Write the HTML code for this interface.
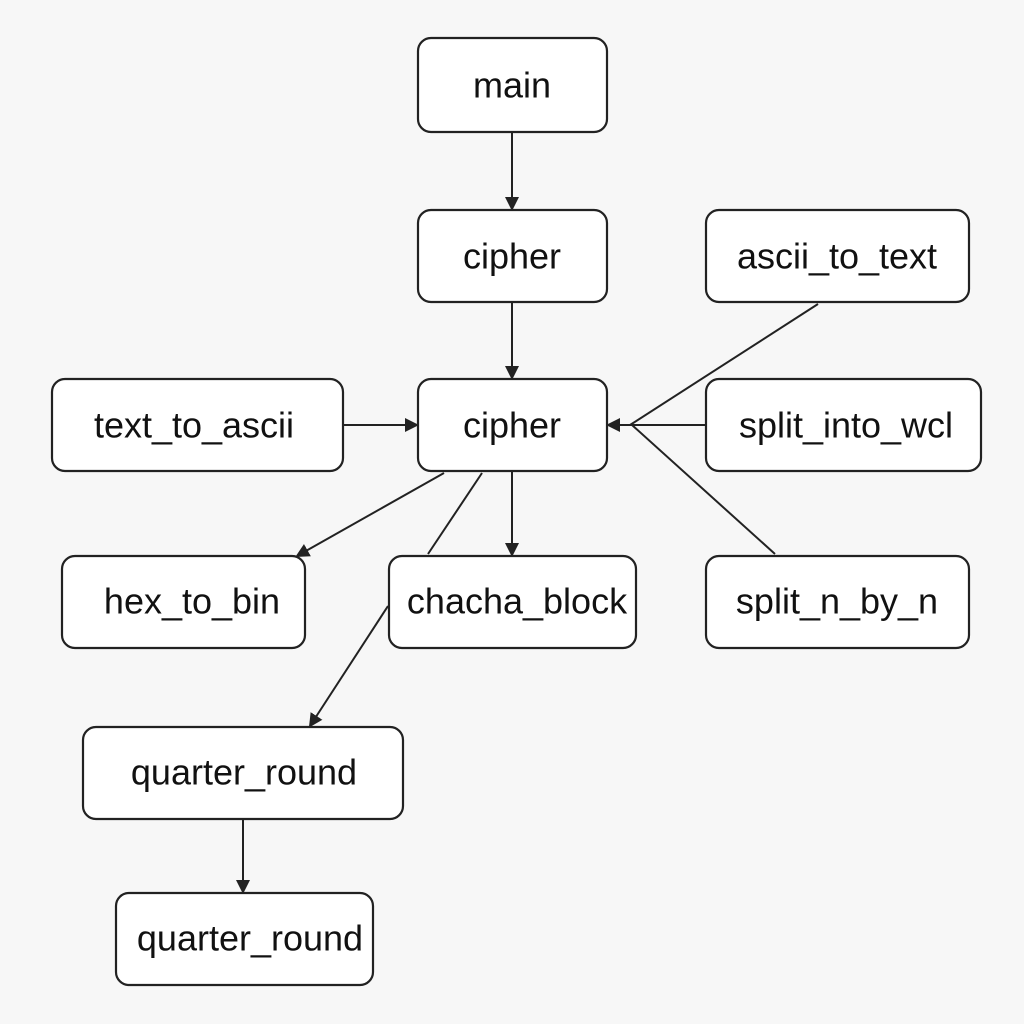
<!DOCTYPE html>
<html><head><style>
body{margin:0;background:#f7f7f7;}
svg{display:block}
text{font-family:"Liberation Sans",sans-serif;font-size:36px;fill:#111;text-anchor:middle;dominant-baseline:central}
rect{fill:#fff;stroke:#222;stroke-width:2.2}
line{stroke:#222;stroke-width:2}
</style></head><body>
<svg width="1024" height="1024" viewBox="0 0 1024 1024">
<defs><marker id="a" markerWidth="14" markerHeight="14" refX="12" refY="7" orient="auto" markerUnits="userSpaceOnUse"><path d="M0,0 L14,7 L0,14 z" fill="#222"/></marker></defs>
<line x1="512" y1="132" x2="512" y2="209" marker-end="url(#a)"/>
<line x1="512" y1="302" x2="512" y2="378" marker-end="url(#a)"/>
<line x1="343" y1="425" x2="417" y2="425" marker-end="url(#a)"/>
<line x1="818" y1="304" x2="630" y2="425"/>
<line x1="706" y1="425" x2="608" y2="425" marker-end="url(#a)"/>
<line x1="775" y1="554" x2="632" y2="425"/>
<line x1="444" y1="473" x2="297" y2="556" marker-end="url(#a)"/>
<line x1="512" y1="471" x2="512" y2="555" marker-end="url(#a)"/>
<line x1="482" y1="473" x2="428" y2="554"/>
<line x1="388" y1="606" x2="310" y2="726" marker-end="url(#a)"/>
<line x1="243" y1="819" x2="243" y2="892" marker-end="url(#a)"/>
<rect x="418" y="38" width="189" height="94" rx="13"/><text x="512" y="85">main</text>
<rect x="418" y="210" width="189" height="92" rx="13"/><text x="512" y="256">cipher</text>
<rect x="706" y="210" width="263" height="92" rx="13"/><text x="837" y="256">ascii_to_text</text>
<rect x="52" y="379" width="291" height="92" rx="13"/><text x="194" y="425">text_to_ascii</text>
<rect x="418" y="379" width="189" height="92" rx="13"/><text x="512" y="425">cipher</text>
<rect x="706" y="379" width="275" height="92" rx="13"/><text x="846" y="425">split_into_wcl</text>
<rect x="62" y="556" width="243" height="92" rx="13"/><text x="192" y="601">hex_to_bin</text>
<rect x="389" y="556" width="247" height="92" rx="13"/><text x="517" y="601">chacha_block</text>
<rect x="706" y="556" width="263" height="92" rx="13"/><text x="837" y="601">split_n_by_n</text>
<rect x="83" y="727" width="320" height="92" rx="13"/><text x="244" y="772">quarter_round</text>
<rect x="116" y="893" width="257" height="92" rx="13"/><text x="250" y="938">quarter_round</text>
</svg>
</body></html>
